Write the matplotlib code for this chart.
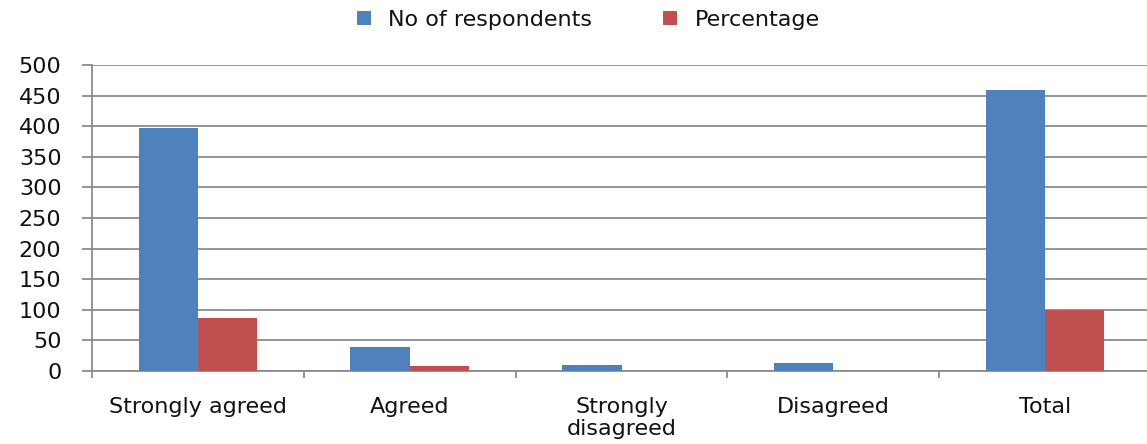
import numpy as np
import matplotlib
matplotlib.use('Agg')
import matplotlib.pyplot as plt

categories = ['Strongly agreed', 'Agreed', 'Strongly\ndisagreed', 'Disagreed', 'Total']
respondents = [397, 40, 10, 13, 460]
percentage = [86, 8, 0, 0, 100]

BLUE = '#4F81BD'
RED = '#C0504D'
GRID = '#8C8C8C'
FS = 16

plt.rcParams['font.family'] = ['DejaVu Sans']
plt.rcParams['text.color'] = '#111111'

fig = plt.figure(figsize=(11.47, 4.44), dpi=100)
ax = fig.add_axes([0.0802, 0.1644, 0.9233, 0.689])

x = np.arange(len(categories))
w = 0.28
ax.bar(x - w / 2, respondents, w, color=BLUE, label='No of respondents', zorder=3)
ax.bar(x + w / 2, percentage, w, color=RED, label='Percentage', zorder=3)

ax.set_xlim(-0.5, len(categories) - 0.5)
ax.set_ylim(0, 500)
ax.set_yticks(np.arange(0, 501, 50))
ax.yaxis.grid(True, color=GRID, lw=1.3, zorder=0)
ax.set_axisbelow(True)

# category labels centred, tick marks between categories
ax.set_xticks(x)
ax.set_xticklabels(categories, fontsize=FS, linespacing=1.1)
ax.set_xticks(np.arange(-0.5, len(categories), 1), minor=True)
ax.tick_params(axis='x', which='major', length=0, pad=19, labelcolor='#111111')
ax.tick_params(axis='x', which='minor', length=5, width=1.3, color=GRID)
ax.tick_params(axis='y', length=7, width=1.3, color=GRID, labelsize=FS, pad=15,
               labelcolor='#111111')

for side in ('top', 'right'):
    ax.spines[side].set_visible(False)
for side in ('left', 'bottom'):
    ax.spines[side].set_color(GRID)
    ax.spines[side].set_linewidth(1.3)

fig.legend(loc='center', bbox_to_anchor=(0.513, 0.955), ncol=2, frameon=False,
           fontsize=FS, handlelength=0.6, handleheight=0.6, handletextpad=0.8,
           columnspacing=3.2)

fig.savefig('out.png', dpi=100)
